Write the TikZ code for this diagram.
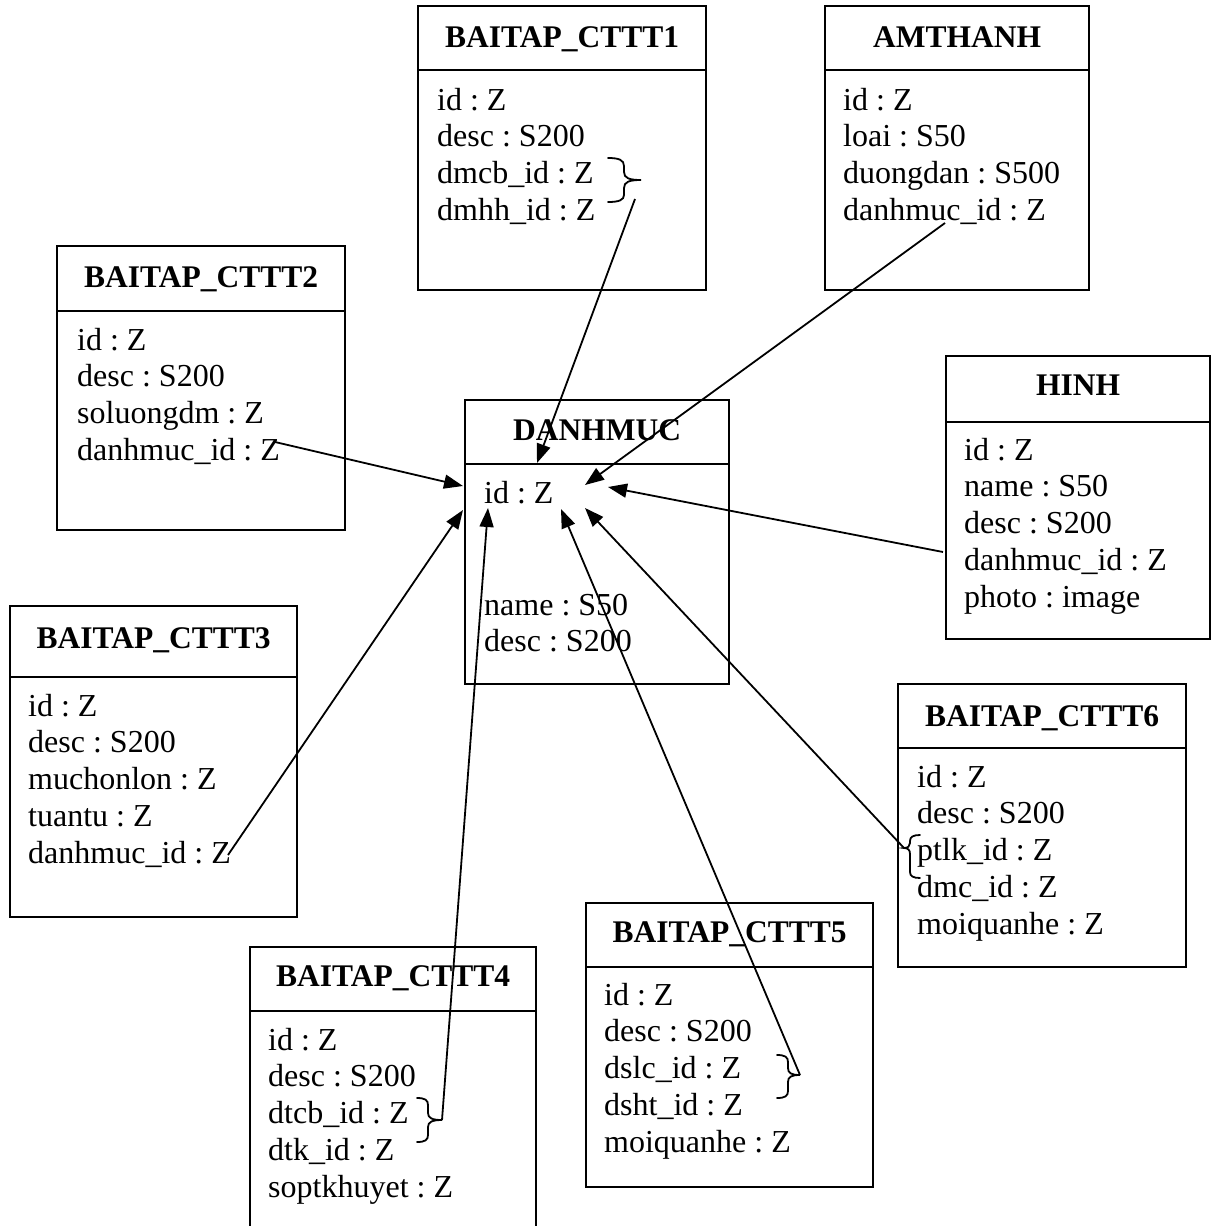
\documentclass[tikz,border=0pt]{standalone}
\usepackage{fontspec}
\setmainfont{Liberation Serif}
\usetikzlibrary{arrows.meta}
\frenchspacing

\tikzset{
  classbox/.style={draw, line width=2.4pt, inner sep=0pt, anchor=north west},
  headrule/.style={line width=2pt},
  classtitle/.style={font=\fontsize{31.5}{37}\selectfont\bfseries, anchor=base, inner sep=0pt},
  attr/.style={anchor=base west, inner sep=0pt},
  link/.style={line width=1.8pt, -{Triangle[length=19pt,width=14pt]}},
  bracket/.style={line width=1.8pt, line cap=round},
}

% \classattrs{x}{first baseline}{list of attributes}
\newcommand\classattrs[3]{%
  \foreach \t [count=\i from 0] in {#3} {
    \node[attr] at (#1,#2+36.8*\i) {\t};
  }%
}

\begin{document}
\begin{tikzpicture}[x=1pt, y=-1pt, font=\fontsize{32}{37}\selectfont]
  \fill[white] (0,0) rectangle (1210,1226);
  \useasboundingbox (0,0) rectangle (1210,1226);

  % ---------- DANHMUC ----------
  \node[classbox, minimum width=264pt, minimum height=284pt] (dm) at (464,399) {};
  \draw[headrule] (dm.west |- 0,464) -- (dm.east |- 0,464);
  \node[classtitle] at (dm.north |- 0,440) {DANHMUC};
  \node[attr] at (484,503) {id : Z};
  \node[attr] at (484,615) {name : S50};
  \node[attr] at (484,651) {desc : S200};

  % ---------- BAITAP_CTTT1 ----------
  \node[classbox, minimum width=288pt, minimum height=284pt] (c1) at (417,5) {};
  \draw[headrule] (c1.west |- 0,70) -- (c1.east |- 0,70);
  \node[classtitle] at (c1.north |- 0,47) {BAITAP\_CTTT1};
  \classattrs{437}{110}{id : Z, desc : S200, dmcb\_id : Z, dmhh\_id : Z}
  \draw[bracket] (608,158) .. controls (619,158) and (624,160) .. (624,166)
    -- (624,172) .. controls (624,178) and (629,180) .. (641,180)
    .. controls (629,180) and (624,182) .. (624,188)
    -- (624,195) .. controls (624,200) and (619,202) .. (608,202);
  \coordinate (c1-out) at (635,199);

  % ---------- AMTHANH ----------
  \node[classbox, minimum width=264pt, minimum height=284pt] (am) at (824,5) {};
  \draw[headrule] (am.west |- 0,70) -- (am.east |- 0,70);
  \node[classtitle] at (am.north |- 0,47) {AMTHANH};
  \classattrs{843}{110}{id : Z, loai : S50, duongdan : S500, danhmuc\_id : Z}
  \coordinate (am-out) at (945,223);

  % ---------- BAITAP_CTTT2 ----------
  \node[classbox, minimum width=288pt, minimum height=284pt] (c2) at (56,245) {};
  \draw[headrule] (c2.west |- 0,311) -- (c2.east |- 0,311);
  \node[classtitle] at (c2.north |- 0,287) {BAITAP\_CTTT2};
  \classattrs{77}{350}{id : Z, desc : S200, soluongdm : Z, danhmuc\_id : Z}
  \coordinate (c2-out) at (275,442);

  % ---------- HINH ----------
  \node[classbox, minimum width=264pt, minimum height=283pt] (hi) at (945,355) {};
  \draw[headrule] (hi.west |- 0,422) -- (hi.east |- 0,422);
  \node[classtitle] at (hi.north |- 0,395) {HINH};
  \classattrs{964}{460}{id : Z, name : S50, desc : S200, danhmuc\_id : Z, photo : image}
  \coordinate (hi-out) at (943,552);

  % ---------- BAITAP_CTTT3 ----------
  \node[classbox, minimum width=287pt, minimum height=311pt] (c3) at (9,605) {};
  \draw[headrule] (c3.west |- 0,677) -- (c3.east |- 0,677);
  \node[classtitle] at (c3.north |- 0,648) {BAITAP\_CTTT3};
  \classattrs{28}{716}{id : Z, desc : S200, muchonlon : Z, tuantu : Z, danhmuc\_id : Z}
  \coordinate (c3-out) at (228,855);

  % ---------- BAITAP_CTTT6 ----------
  \node[classbox, minimum width=288pt, minimum height=283pt] (c6) at (897,683) {};
  \draw[headrule] (c6.west |- 0,748) -- (c6.east |- 0,748);
  \node[classtitle] at (c6.north |- 0,726) {BAITAP\_CTTT6};
  \classattrs{917}{787}{id : Z, desc : S200, ptlk\_id : Z, dmc\_id : Z, moiquanhe : Z}
  \draw[bracket] (920,835) .. controls (913,835) and (910,837) .. (910,841)
    -- (910,843) .. controls (910,846) and (908,848) .. (904,848)
    .. controls (908,848) and (910,850) .. (910,854)
    -- (910,872) .. controls (910,876) and (913,878) .. (920,878);
  \coordinate (c6-out) at (904,848);

  % ---------- BAITAP_CTTT5 ----------
  \node[classbox, minimum width=287pt, minimum height=284pt] (c5) at (585,902) {};
  \draw[headrule] (c5.west |- 0,967) -- (c5.east |- 0,967);
  \node[classtitle] at (c5.north |- 0,942) {BAITAP\_CTTT5};
  \classattrs{604}{1005}{id : Z, desc : S200, dslc\_id : Z, dsht\_id : Z, moiquanhe : Z}
  \draw[bracket] (777,1055) .. controls (785,1055) and (788,1057) .. (788,1062)
    -- (788,1068) .. controls (788,1073) and (791,1075) .. (800,1075)
    .. controls (791,1075) and (788,1077) .. (788,1082)
    -- (788,1091) .. controls (788,1096) and (785,1098) .. (777,1098);
  \coordinate (c5-out) at (800,1075);

  % ---------- BAITAP_CTTT4 ----------
  \node[classbox, minimum width=286pt, minimum height=300pt] (c4) at (249,946) {};
  \draw[headrule] (c4.west |- 0,1011) -- (c4.east |- 0,1011);
  \node[classtitle] at (c4.north |- 0,986) {BAITAP\_CTTT4};
  \classattrs{268}{1050}{id : Z, desc : S200, dtcb\_id : Z, dtk\_id : Z, soptkhuyet : Z}
  \draw[bracket] (417,1098) .. controls (425,1098) and (428,1100) .. (428,1105)
    -- (428,1113) .. controls (428,1118) and (432,1120) .. (442,1120)
    .. controls (432,1120) and (428,1122) .. (428,1127)
    -- (428,1135) .. controls (428,1140) and (425,1142) .. (417,1142);
  \coordinate (c4-out) at (442,1120);

  % ---------- arrow targets inside DANHMUC ----------
  \coordinate (dm-c1) at (537,463);
  \coordinate (dm-am) at (585,485);
  \coordinate (dm-c2) at (463,486);
  \coordinate (dm-hi) at (608,487);
  \coordinate (dm-c3) at (463,510);
  \coordinate (dm-c4) at (488,508);
  \coordinate (dm-c5) at (561,509);
  \coordinate (dm-c6) at (585,508);

  % ---------- references to DANHMUC.id ----------
  \draw[link] (c1-out) -- (dm-c1);
  \draw[link] (am-out) -- (dm-am);
  \draw[link] (c2-out) -- (dm-c2);
  \draw[link] (hi-out) -- (dm-hi);
  \draw[link] (c3-out) -- (dm-c3);
  \draw[link] (c4-out) -- (dm-c4);
  \draw[link] (c5-out) -- (dm-c5);
  \draw[link] (c6-out) -- (dm-c6);
\end{tikzpicture}
\end{document}
